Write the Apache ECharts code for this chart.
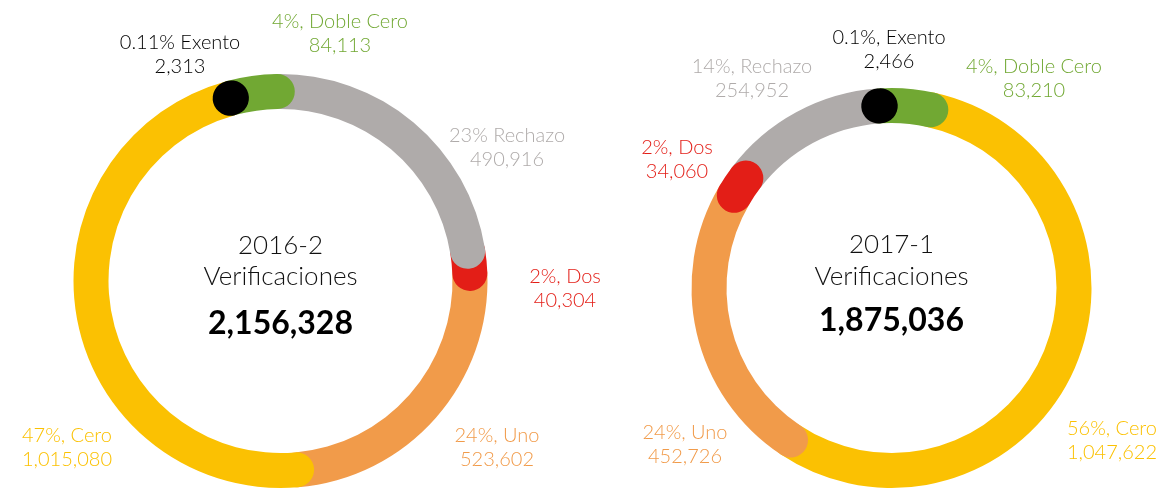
<!DOCTYPE html>
<html>
<head>
<meta charset="utf-8">
<script src="https://cdn.jsdelivr.net/npm/echarts@6/dist/echarts.min.js"></script>
<style>
  html, body { margin: 0; background: #fff; }
  #chart { width: 1163px; height: 489px; }
</style>
</head>
<body>
<div id="chart"></div>
<script>
// 2016-2, en orden horario a partir de Exento
var periodoA = '2016-2';
var nombresA = ['Exento', 'Doble Cero', 'Rechazo', 'Dos', 'Uno', 'Cero'];
var valoresA = [2313, 84113, 490916, 40304, 523602, 1015080];
var etiquetasA = ['0.11% Exento', '4%, Doble Cero', '23% Rechazo', '2%, Dos', '24%, Uno', '47%, Cero'];

// 2017-1
var periodoB = '2017-1';
var nombresB = ['Exento', 'Doble Cero', 'Cero', 'Uno', 'Dos', 'Rechazo'];
var valoresB = [2466, 83210, 1047622, 452726, 34060, 254952];
var etiquetasB = ['0.1%, Exento', '4%, Doble Cero', '56%, Cero', '24%, Uno', '2%, Dos', '14%, Rechazo'];

var colores = {
  'Exento': '#000000',
  'Doble Cero': '#71a833',
  'Rechazo': '#afabaa',
  'Dos': '#e31e17',
  'Uno': '#f19b4a',
  'Cero': '#fbc102'
};

// posiciones y orden de dibujo (quien tapa a quien en las puntas redondas)
var donas = [
  {
    periodo: periodoA, nombres: nombresA, valores: valoresA, etiquetas: etiquetasA,
    centro: [280.5, 281], radio: [172, 207], inicio: 105.4,
    capas: {'Uno': 1, 'Cero': 2, 'Dos': 3, 'Rechazo': 4, 'Doble Cero': 5, 'Exento': 6},
    posEtiquetas: [[180, 55], [340, 34], [507, 148], [565, 289], [497, 448], [67, 448]],
    textoY: [246, 277, 324]
  },
  {
    periodo: periodoB, nombres: nombresB, valores: valoresB, etiquetas: etiquetasB,
    centro: [891.5, 288], radio: [165, 200], inicio: 94,
    capas: {'Cero': 1, 'Uno': 2, 'Rechazo': 3, 'Dos': 4, 'Doble Cero': 5, 'Exento': 6},
    posEtiquetas: [[889, 50], [1034, 79], [1112, 441], [685, 445], [677, 160], [752, 79]],
    textoY: [245, 277, 321]
  }
];

function fmt(v) { return v.toLocaleString('en-US'); }

var polar = [], angleAxis = [], radiusAxis = [], series = [], graphic = [];

donas.forEach(function (d, k) {
  var total = d.valores.reduce(function (a, b) { return a + b; }, 0);
  polar.push({center: d.centro, radius: d.radio});
  angleAxis.push({polarIndex: k, type: 'value', min: 0, max: total, startAngle: d.inicio, clockwise: true, show: false});
  radiusAxis.push({polarIndex: k, type: 'category', data: [d.periodo], show: false});

  d.nombres.forEach(function (n, i) {
    series.push({
      type: 'bar',
      name: n,
      coordinateSystem: 'polar',
      polarIndex: k,
      stack: 'dona' + k,
      data: [d.valores[i]],
      roundCap: true,
      barWidth: d.radio[1] - d.radio[0],
      z: 2 + d.capas[n],
      itemStyle: {color: colores[n]},
      silent: true
    });

    var p = d.posEtiquetas[i];
    graphic.push({
      type: 'text', x: p[0], y: p[1],
      style: {
        text: d.etiquetas[i] + '\n' + fmt(d.valores[i]),
        fill: colores[n], fontSize: 20, fontFamily: 'Lato', fontWeight: 300,
        align: 'center', verticalAlign: 'middle', lineHeight: 24
      }
    });
  });

  // texto central
  var cx = d.centro[0];
  graphic.push({
    type: 'text', x: cx, y: d.textoY[0],
    style: {text: d.periodo, fill: '#111', fontSize: 26, fontFamily: 'Lato', fontWeight: 300, align: 'center', verticalAlign: 'middle'}
  });
  graphic.push({
    type: 'text', x: cx, y: d.textoY[1],
    style: {text: 'Verificaciones', fill: '#111', fontSize: 26, fontFamily: 'Lato', fontWeight: 300, align: 'center', verticalAlign: 'middle'}
  });
  graphic.push({
    type: 'text', x: cx, y: d.textoY[2],
    style: {text: fmt(total), fill: '#000', fontSize: 32, fontFamily: 'Lato', fontWeight: 'bold', align: 'center', verticalAlign: 'middle'}
  });
});

var chart = echarts.init(document.getElementById('chart'));
chart.setOption({
  animation: false,
  backgroundColor: '#fff',
  polar: polar,
  angleAxis: angleAxis,
  radiusAxis: radiusAxis,
  series: series,
  graphic: graphic
});
</script>
</body>
</html>
